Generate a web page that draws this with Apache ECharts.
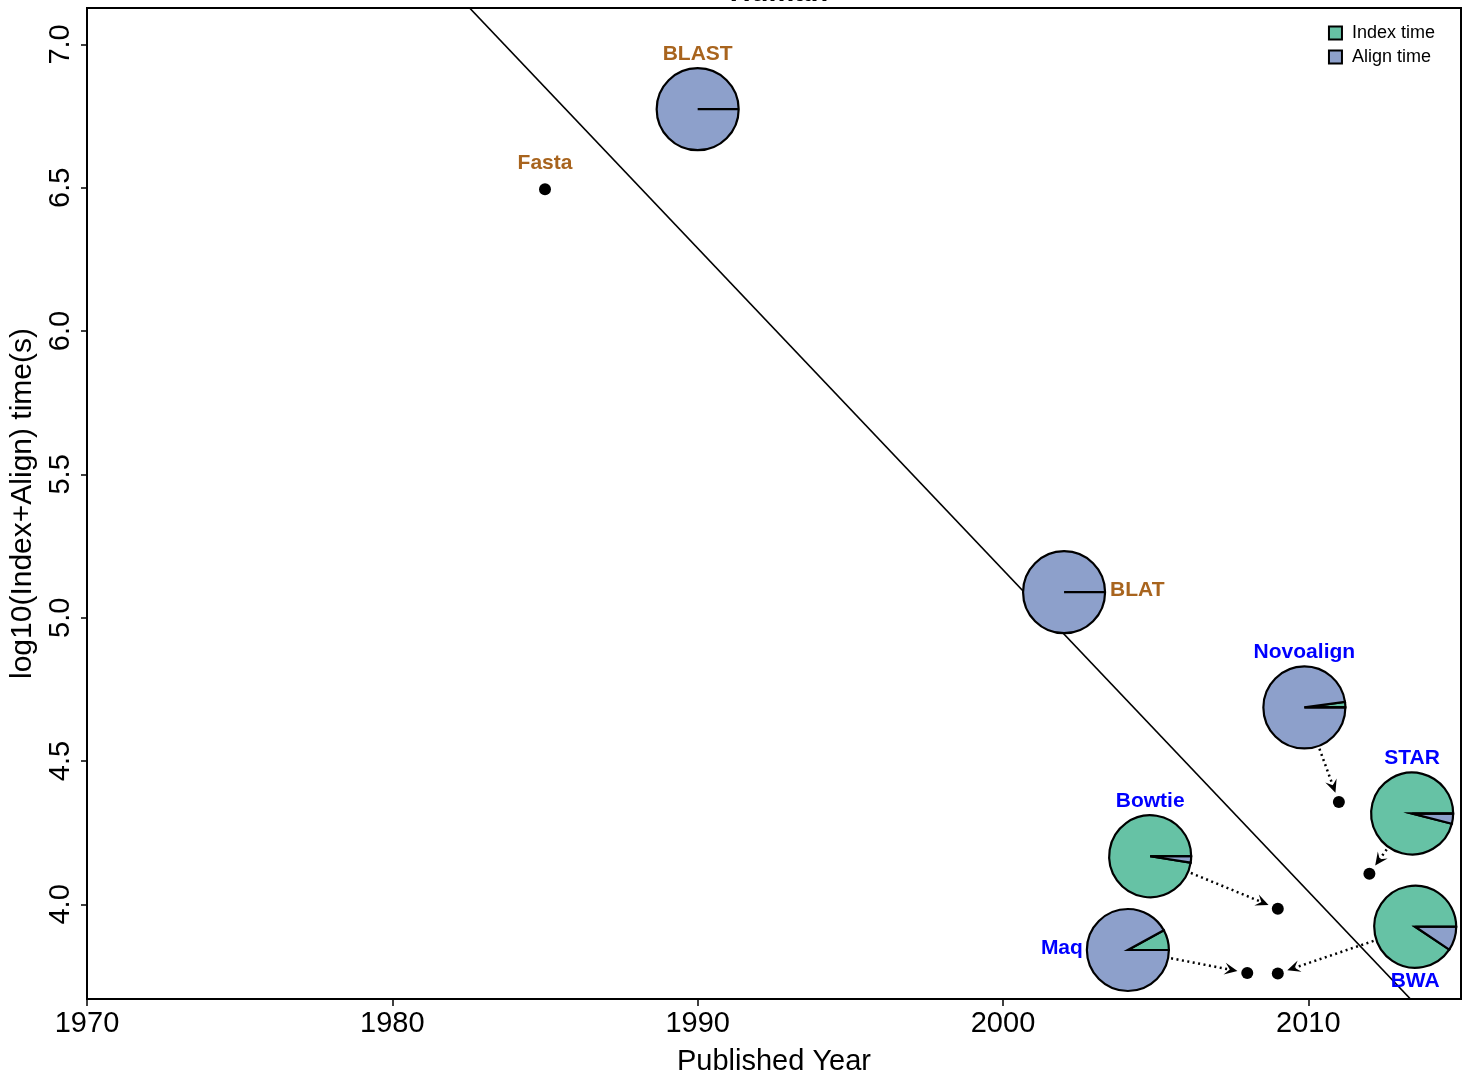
<!DOCTYPE html>
<html>
<head>
<meta charset="utf-8">
<script src="https://cdn.jsdelivr.net/npm/echarts@6/dist/echarts.min.js"></script>
<style>html,body{margin:0;padding:0;background:#fff;}#c{width:1471px;height:1083px;}</style>
</head>
<body>
<div id="c"></div>
<script>
// ---- data ----
const pieTools      = ['BLAST', 'BLAT', 'Novoalign', 'Bowtie', 'Maq', 'STAR', 'BWA'];
const pieYear       = [1990, 2002, 2009.87, 2004.82, 2004.09, 2013.4, 2013.5];
const pieLogTime    = [6.774, 5.089, 4.687, 4.168, 3.841, 4.317, 3.922];
const pieIndexShare = [0, 0, 0.022, 0.975, 0.08, 0.96, 0.906];

const dotTools   = ['Fasta', 'Novoalign', 'Bowtie', 'Maq', 'STAR', 'BWA'];
const dotYear    = [1985, 2011, 2009, 2008, 2012, 2009];
const dotLogTime = [6.495, 4.357, 3.985, 3.761, 4.107, 3.759];

const arrowTools = ['Novoalign', 'Bowtie', 'Maq', 'STAR', 'BWA'];

const fitYear = [1980, 2016];
const fitLog  = [7.411, 3.372];

const xTicks = [1970, 1980, 1990, 2000, 2010];
const yTicks = [4.0, 4.5, 5.0, 5.5, 6.0, 6.5, 7.0];

// ---- style ----
const GREEN = '#66C2A5', BLUE = '#8DA0CB';
const BROWN = '#A8641E', LBLUE = '#0000FF';
const brownTools = ['Fasta', 'BLAST', 'BLAT'];
const labelSide = {BLAST:'top', BLAT:'right', Novoalign:'top', Bowtie:'top', Maq:'left', STAR:'top', BWA:'bottom', Fasta:'top'};
const R = 41;
const FONT = '"Liberation Sans", Arial, Helvetica, sans-serif';

const chart = echarts.init(document.getElementById('c'), null, {renderer: 'canvas'});

const pieData = pieTools.map((n, i) => ({name: n, value: [pieYear[i], pieLogTime[i], pieIndexShare[i], i]}));

function labelEl(name, c) {
  const side = labelSide[name];
  let x = c[0], y = c[1], align = 'center', va = 'middle';
  if (side === 'top') { y = c[1] - 55; }
  else if (side === 'bottom') { y = c[1] + 54; }
  else if (side === 'right') { x = c[0] + 46; align = 'left'; y = c[1] - 2; }
  else if (side === 'left') { x = c[0] - 45; align = 'right'; y = c[1] - 2; }
  return {
    type: 'text', z2: 20,
    style: {x: x, y: y, text: name, align: align, verticalAlign: va,
      fill: brownTools.indexOf(name) >= 0 ? BROWN : LBLUE,
      font: 'bold 21px ' + FONT}
  };
}

const dotIndex = {};
dotTools.forEach((n, i) => dotIndex[n] = i);
const pieIndex = {};
pieTools.forEach((n, i) => pieIndex[n] = i);

const arrowData = arrowTools.map(n => {
  const p = pieIndex[n], d = dotIndex[n];
  return {name: n, value: [pieYear[p], pieLogTime[p], dotYear[d], dotLogTime[d]]};
});

const option = {
  backgroundColor: '#fff',
  animation: false,
  title: {
    text: 'Human', left: 774, top: -27, textAlign: 'center',
    textStyle: {fontFamily: FONT, fontWeight: 'bold', fontSize: 29, color: '#000'}
  },
  legend: {
    orient: 'vertical', right: 31, top: 19, itemGap: 6,
    itemWidth: 13, itemHeight: 13, icon: 'rect',
    data: ['Index time', 'Align time'],
    textStyle: {fontFamily: FONT, fontSize: 18, color: '#000', padding: [0, 0, 0, 5]}
  },
  grid: {left: 87, right: 10, top: 8, bottom: 84, show: true, borderColor: '#000', borderWidth: 2, backgroundColor: 'transparent'},
  xAxis: {
    type: 'value', min: 1970, max: 2015, interval: 10,
    axisLine: {lineStyle: {color: '#000', width: 2}},
    axisTick: {show: true, length: 7, lineStyle: {color: '#000', width: 1.5}, customValues: xTicks},
    axisLabel: {customValues: xTicks, color: '#000', fontFamily: FONT, fontSize: 29, margin: 10,
      formatter: v => String(Math.round(v))},
    splitLine: {show: false},
    name: 'Published Year', nameLocation: 'middle', nameGap: 48,
    nameTextStyle: {fontFamily: FONT, fontSize: 29, color: '#000'}
  },
  yAxis: {
    type: 'value', min: 3.67, max: 7.127,
    axisLine: {lineStyle: {color: '#000', width: 2}},
    axisTick: {show: true, length: 6, lineStyle: {color: '#000', width: 1.5}, customValues: yTicks},
    axisLabel: {customValues: yTicks, rotate: 90, color: '#000', fontFamily: FONT, fontSize: 29, margin: 12,
      formatter: v => v.toFixed(1)},
    splitLine: {show: false},
    name: 'log10(Index+Align) time(s)', nameLocation: 'middle', nameGap: 47, nameRotate: 90,
    nameTextStyle: {fontFamily: FONT, fontSize: 30, color: '#000'}
  },
  series: [
    {
      type: 'line', name: 'fit', data: fitYear.map((y, i) => [y, fitLog[i]]),
      symbol: 'none', lineStyle: {color: '#000', width: 1.6}, z: 1, silent: true
    },
    {
      type: 'custom', name: 'arrows', data: arrowData, z: 2, silent: true,
      encode: {x: [0, 2], y: [1, 3]},
      renderItem: function (params, api) {
        const a = api.coord([api.value(0), api.value(1)]);
        const b = api.coord([api.value(2), api.value(3)]);
        const dx = b[0] - a[0], dy = b[1] - a[1];
        const L = Math.sqrt(dx * dx + dy * dy);
        const ux = dx / L, uy = dy / L;
        const s = [a[0] + ux * (R + 3), a[1] + uy * (R + 3)];
        const e = [b[0] - ux * 10, b[1] - uy * 10];
        const hl = 13, hw = 6;
        const base = [e[0] - ux * hl, e[1] - uy * hl];
        const notch = [e[0] - ux * hl * 0.6, e[1] - uy * hl * 0.6];
        const w1 = [base[0] - uy * hw, base[1] + ux * hw];
        const w2 = [base[0] + uy * hw, base[1] - ux * hw];
        return {
          type: 'group', children: [
            {type: 'line', shape: {x1: s[0], y1: s[1], x2: notch[0], y2: notch[1]},
              style: {stroke: '#000', lineWidth: 2.5, lineDash: [2, 3.5]}},
            {type: 'polygon', shape: {points: [e, w1, notch, w2]}, style: {fill: '#000'}}
          ]
        };
      }
    },
    {
      type: 'scatter', name: 'points', z: 3,
      data: dotTools.map((n, i) => ({name: n, value: [dotYear[i], dotLogTime[i]],
        label: {show: pieTools.indexOf(n) < 0}})),
      symbol: 'circle', symbolSize: 12, itemStyle: {color: '#000', opacity: 1},
      label: {position: 'top', distance: 9, formatter: p => p.name,
        color: BROWN, fontFamily: FONT, fontWeight: 'bold', fontSize: 21}
    },
    {
      type: 'custom', name: 'Index time', data: pieData, z: 4,
      encode: {x: 0, y: 1},
      itemStyle: {color: GREEN, borderColor: '#000', borderWidth: 1.5},
      renderItem: function (params, api) {
        const c = api.coord([api.value(0), api.value(1)]);
        const f = api.value(2);
        if (!(f > 0)) return {type: 'group', children: []};
        return {
          type: 'sector',
          shape: {cx: c[0], cy: c[1], r: R, r0: 0, startAngle: -2 * Math.PI * f, endAngle: 0, clockwise: true},
          style: {fill: GREEN, stroke: '#000', lineWidth: 2.2}
        };
      }
    },
    {
      type: 'custom', name: 'Align time', data: pieData, z: 5,
      encode: {x: 0, y: 1},
      itemStyle: {color: BLUE, borderColor: '#000', borderWidth: 1.5},
      renderItem: function (params, api) {
        const c = api.coord([api.value(0), api.value(1)]);
        const f = api.value(2);
        const name = pieTools[api.value(3)];
        const ch = [];
        if (f < 1) {
          if (f <= 0) {
            ch.push({type: 'circle', shape: {cx: c[0], cy: c[1], r: R}, style: {fill: BLUE, stroke: '#000', lineWidth: 2.2}});
          } else {
            ch.push({type: 'sector',
              shape: {cx: c[0], cy: c[1], r: R, r0: 0, startAngle: 0, endAngle: 2 * Math.PI * (1 - f), clockwise: true},
              style: {fill: BLUE, stroke: '#000', lineWidth: 2.2}});
          }
        }
        ch.push({type: 'line', shape: {x1: c[0], y1: c[1], x2: c[0] + R, y2: c[1]}, style: {stroke: '#000', lineWidth: 2.2}});
        ch.push(labelEl(name, c));
        return {type: 'group', children: ch};
      }
    }
  ]
};
chart.setOption(option);
</script>
</body>
</html>
